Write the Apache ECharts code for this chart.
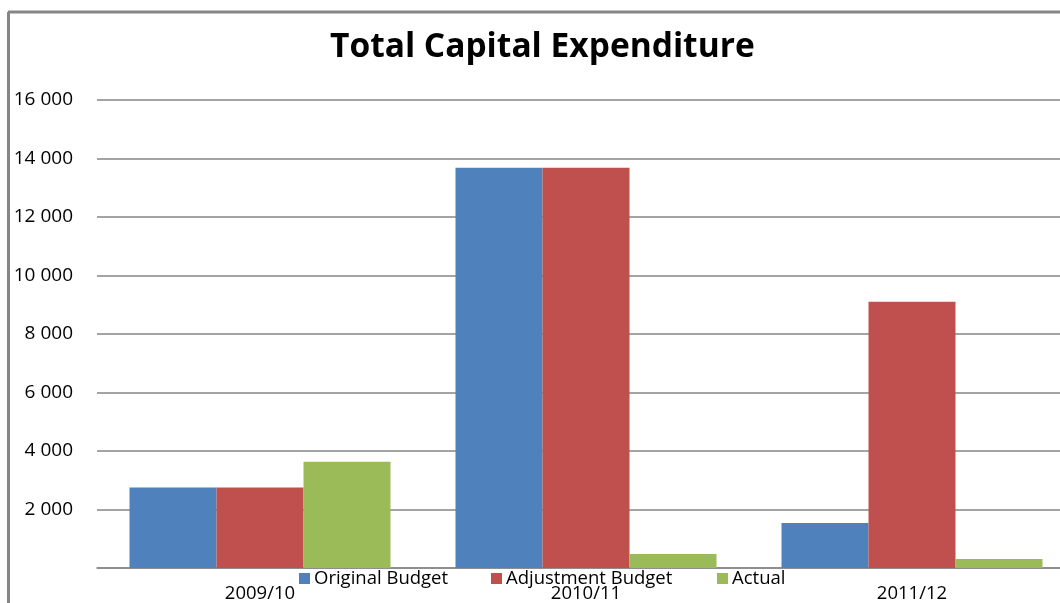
<!DOCTYPE html>
<html>
<head>
<meta charset="utf-8">
<script src="https://cdn.jsdelivr.net/npm/echarts@6/dist/echarts.min.js"></script>
<style>
  html, body { margin: 0; padding: 0; background: #fff; }
  #chart { width: 1060px; height: 603px; }
</style>
</head>
<body>
<div id="chart"></div>
<script>
// Fiscal years and capital expenditure per budget stage
const years = ['2009/10', '2010/11', '2011/12'];
const originalBudget = [2750, 13680, 1540];
const adjustmentBudget = [2750, 13680, 9100];
const actual = [3630, 480, 310];
const seriesNames = ['Original Budget', 'Adjustment Budget', 'Actual'];
const colors = ['#4F81BD', '#C0504D', '#9BBB59'];
const legendLefts = [299, 491, 717];

const font = '"Open Sans", sans-serif';

function fmtThousands(v) {
  if (v === 0) return '';
  return String(v).replace(/\B(?=(\d{3})+(?!\d))/g, ' ');
}

const chart = echarts.init(document.getElementById('chart'));
chart.setOption({
  animation: false,
  backgroundColor: '#fff',
  color: colors,
  title: {
    text: 'Total Capital Expenditure',
    left: 325,
    top: 25,
    textStyle: { fontFamily: font, fontWeight: 'bold', fontSize: 33.5, color: '#000' }
  },
  // one legend entry per key, placed side by side under the axis
  legend: seriesNames.map((name, i) => ({
    data: [name],
    left: legendLefts[i],
    top: 569,
    padding: 0,
    itemWidth: 11,
    itemHeight: 11,
    icon: 'rect',
    textStyle: { fontFamily: font, fontSize: 18.5, color: '#000', padding: [0, 0, 0, -1] }
  })),
  graphic: [
    { type: 'line', shape: { x1: 8.5, y1: 12, x2: 8.5, y2: 603 }, style: { stroke: '#868686', lineWidth: 3 } },
    { type: 'line', shape: { x1: 8, y1: 12, x2: 1060, y2: 12 }, style: { stroke: '#868686', lineWidth: 3 } }
  ],
  grid: { left: 97, top: 100, width: 978, height: 468, outerBoundsMode: 'none' },
  xAxis: {
    type: 'category',
    data: years,
    axisLine: { lineStyle: { color: '#868686', width: 1.5 } },
    axisTick: { show: false },
    axisLabel: { fontFamily: font, fontSize: 18.5, color: '#000', margin: 16 }
  },
  yAxis: {
    type: 'value',
    min: 0,
    max: 16000,
    interval: 2000,
    axisLine: { show: false },
    axisTick: { show: false },
    splitLine: { lineStyle: { color: '#868686', width: 1.5 } },
    axisLabel: {
      fontFamily: font, fontSize: 19, color: '#000', margin: 24,
      formatter: fmtThousands
    }
  },
  series: seriesNames.map((name, i) => ({
    name: name,
    type: 'bar',
    barWidth: 87,
    barGap: '0%',
    data: [originalBudget, adjustmentBudget, actual][i]
  }))
});
</script>
</body>
</html>
